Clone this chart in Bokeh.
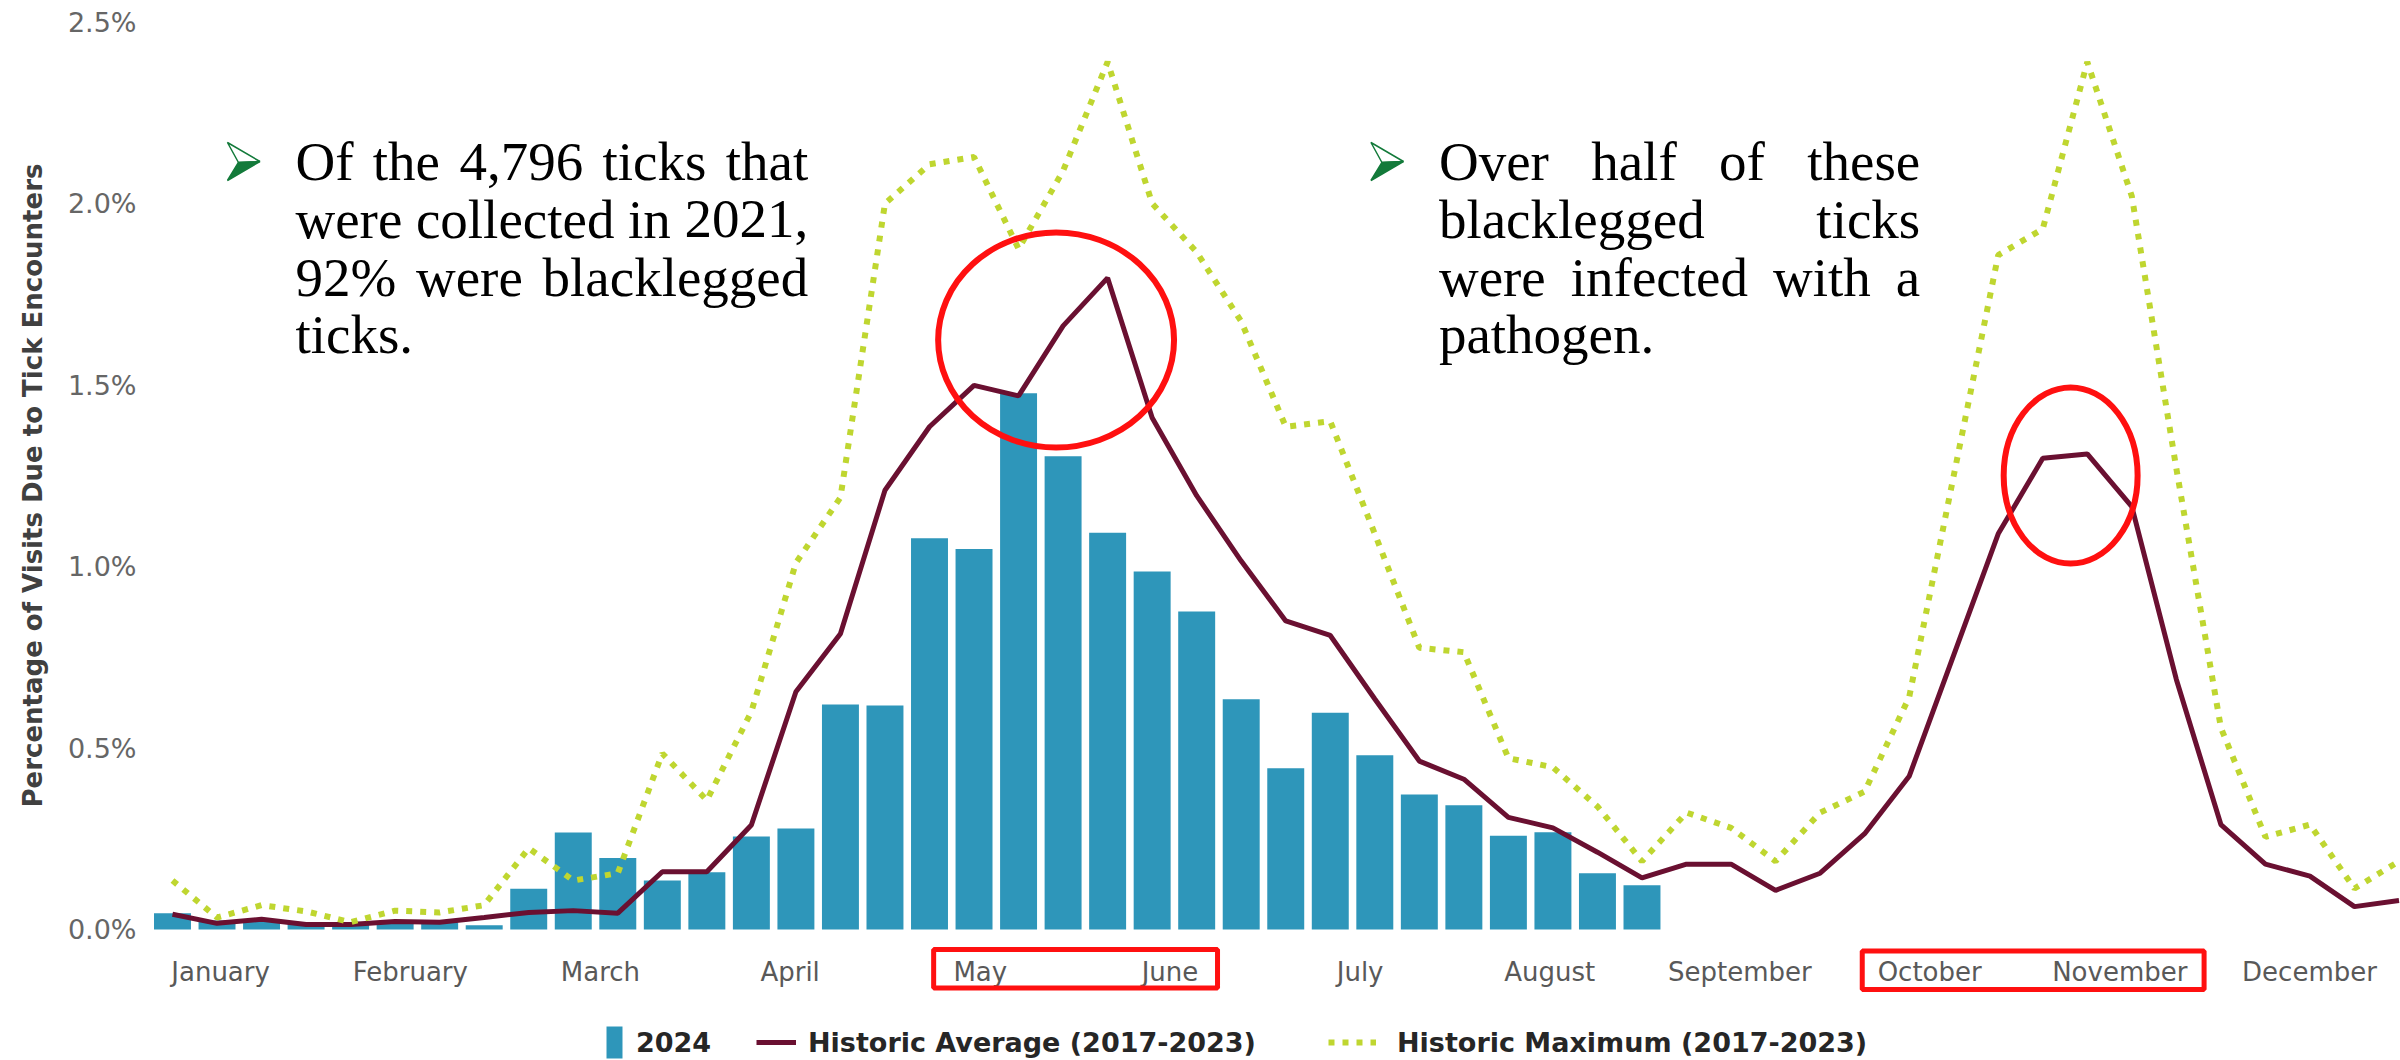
from bokeh.plotting import figure
from bokeh.models import Range1d, FixedTicker, PrintfTickFormatter, Legend, LegendItem, Title
from bokeh.embed import file_html
from bokeh.resources import INLINE
from bokeh.core.properties import value

# ---------------- data ----------------
weeks_2024 = list(range(1, 35))
pct_2024 = [0.045, 0.025, 0.028, 0.018, 0.015, 0.022, 0.020, 0.012, 0.112, 0.267,
            0.197, 0.135, 0.158, 0.256, 0.278, 0.620, 0.617, 1.078, 1.048, 1.477,
            1.304, 1.093, 0.986, 0.876, 0.634, 0.444, 0.597, 0.480, 0.372, 0.342,
            0.258, 0.268, 0.155, 0.122]

weeks_hist = list(range(1, 52))
hist_avg = [0.042, 0.017, 0.028, 0.014, 0.014, 0.022, 0.020, 0.033, 0.047, 0.052,
            0.045, 0.159, 0.159, 0.288, 0.655, 0.815, 1.210, 1.385, 1.499, 1.470,
            1.663, 1.795, 1.410, 1.195, 1.015, 0.850, 0.810, 0.635, 0.464, 0.414,
            0.309, 0.280, 0.213, 0.142, 0.180, 0.180, 0.108, 0.155, 0.264, 0.422,
            0.756, 1.090, 1.298, 1.310, 1.165, 0.689, 0.289, 0.180, 0.147, 0.063,
            0.080]
hist_max = [0.135, 0.033, 0.067, 0.050, 0.020, 0.052, 0.047, 0.067, 0.224, 0.135,
            0.155, 0.485, 0.356, 0.600, 1.010, 1.190, 2.000, 2.108, 2.128, 1.875,
            2.090, 2.390, 2.000, 1.866, 1.675, 1.385, 1.400, 1.090, 0.776, 0.764,
            0.472, 0.447, 0.339, 0.188, 0.322, 0.280, 0.188, 0.322, 0.380, 0.640,
            1.250, 1.858, 1.930, 2.390, 2.020, 1.270, 0.556, 0.255, 0.289, 0.113,
            0.188]

month_names = ["January", "February", "March", "April", "May", "June", "July",
               "August", "September", "October", "November", "December"]
month_ticks = [2.08, 6.34, 10.61, 14.87, 19.14, 23.4, 27.67, 31.93, 36.2, 40.46, 44.73, 48.99]
y_ticks = [0.0, 0.5, 1.0, 1.5, 2.0, 2.5]

series_names = ["2024", "Historic Average (2017-2023)", "Historic Maximum (2017-2023)"]
y_title = "Percentage of Visits Due to Tick Encounters"

note_left = [["Of", "the", "4,796", "ticks", "that"],
             ["were", "collected", "in", "2021,"],
             ["92%", "were", "blacklegged"],
             ["ticks."]]
note_right = [["Over", "half", "of", "these"],
              ["blacklegged", "ticks"],
              ["were", "infected", "with", "a"],
              ["pathogen."]]

# ---------------- styling / layout ----------------
TEAL = "#2e96ba"
MAROON = "#6a1031"
LIME = "#bfd630"
RED = "#ff1010"
GREEN = "#137a3a"

W, H = 2400, 1060
FL, FR, FT, FB = 145, 2400, 10, 1060      # frame edges in page pixels
PX_WEEK = 44.55
X0 = 1 - (171 - FL) / PX_WEEK
X1 = X0 + (FR - FL) / PX_WEEK
PX_PCT = 363.0
ZERO_Y = 929
Y0 = -(FB - ZERO_Y) / PX_PCT
Y1 = (ZERO_Y - FT) / PX_PCT


def dx(px):
    return X0 + (px - FL) / PX_WEEK


def dy(py):
    return (ZERO_Y - py) / PX_PCT


p = figure(width=W, height=H, output_backend="svg", toolbar_location=None,
           x_range=Range1d(X0, X1), y_range=Range1d(Y0, Y1), x_axis_location=None,
           min_border_left=FL, min_border_right=W - FR,
           min_border_top=FT, min_border_bottom=H - FB)
p.outline_line_color = None
p.xgrid.visible = False
p.ygrid.visible = False
p.background_fill_color = "white"
p.border_fill_color = "white"

# y axis
ya = p.yaxis[0]
ya.ticker = FixedTicker(ticks=y_ticks)
ya.formatter = PrintfTickFormatter(format="%.1f%%")
ya.axis_line_color = None
ya.major_tick_line_color = None
ya.minor_tick_line_color = None
ya.major_tick_out = 0
ya.major_tick_in = 0
ya.major_label_standoff = 10
ya.major_label_text_font = "DejaVu Sans"
ya.major_label_text_font_size = "27px"
ya.major_label_text_color = "#666666"

# y axis title, centred on the 0-2.5% span rather than the whole frame
p.add_layout(Title(text=y_title, align="left", vertical_align="middle",
                   offset=FB - 807, standoff=32, text_font="DejaVu Sans",
                   text_font_size="26px", text_font_style="bold",
                   text_color="#404040"), "left")

# data marks
bars = p.vbar(x=weeks_2024, top=pct_2024, width=0.83, fill_color=TEAL, line_color=None)
avg = p.line(weeks_hist, hist_avg, line_color=MAROON, line_width=5)
mx = p.line(weeks_hist, hist_max, line_color=LIME, line_width=6, line_dash="6 8")

# month labels under the bars
p.text(x=month_ticks, y=[dy(971)] * len(month_ticks), text=month_names,
       text_font=value("DejaVu Sans"), text_font_size="26px", text_color="#595959",
       text_align="center", text_baseline="middle")

# red highlight ellipses (screen sizes converted to data units)
p.ellipse(x=[dx(1055), dx(2070)], y=[dy(339.5), dy(475)],
          width=[236 / PX_WEEK, 134 / PX_WEEK], height=[215 / PX_PCT, 176 / PX_PCT],
          fill_color=None, line_color=RED, line_width=6)

# red boxes around month labels
boxes = [(932.5, 1216.5, 949, 987.5), (1861.5, 2203.5, 950.5, 989)]
p.quad(left=[dx(b[0]) for b in boxes], right=[dx(b[1]) for b in boxes],
       top=[dy(b[2]) for b in boxes], bottom=[dy(b[3]) for b in boxes],
       fill_color=None, line_color=RED, line_width=5)

# justified serif notes (Times/Liberation Serif advance widths, per 1000 em)
TW = {' ': 250, ',': 250, '.': 250, '%': 833, '0': 500, '1': 500, '2': 500, '4': 500,
      '6': 500, '7': 500, '9': 500, 'O': 722, 'a': 444, 'b': 500, 'c': 444, 'd': 500,
      'e': 444, 'f': 333, 'g': 500, 'h': 500, 'i': 278, 'k': 500, 'l': 278, 'n': 500,
      'o': 500, 'p': 500, 'r': 333, 's': 389, 't': 278, 'v': 500, 'w': 722}
FS = 55


def wwidth(w):
    return sum(TW.get(c, 500) for c in w) * FS / 1000.0


tx, ty, tt = [], [], []
baselines = [180, 237.5, 295.5, 353]
MID = 0.34 * FS          # em-box middle above the baseline
for lines, left, right in [(note_left, 294, 807), (note_right, 1438, 1919.5)]:
    for k, words in enumerate(lines):
        last = k == len(lines) - 1
        if len(words) > 1 and not last:
            gap = (right - left - sum(wwidth(w) for w in words)) / (len(words) - 1)
        else:
            gap = TW[' '] * FS / 1000.0
        xpos = left
        for w in words:
            tx.append(dx(xpos))
            ty.append(dy(baselines[k] - MID))
            tt.append(w)
            xpos += wwidth(w) + gap
p.text(x=tx, y=ty, text=tt, text_font=value("Liberation Serif"), text_font_size="55px",
       text_baseline="middle", text_align="left", text_color="black")

# green arrowhead bullets
axs, ays, acol = [], [], []
for ox in [226, 1370]:
    top_half = [(ox, 142), (ox + 32.5, 161), (ox + 11, 162)]
    bot_half = [(ox + 11, 162), (ox + 32.5, 161), (ox, 180)]
    for poly, col in [(top_half, "white"), (bot_half, GREEN)]:
        axs.append([dx(a) for a, _ in poly])
        ays.append([dy(b) for _, b in poly])
        acol.append(col)
p.patches(xs=axs, ys=ays, fill_color=acol, line_color=GREEN, line_width=1.5)

# legends at the bottom of the chart
LEG_BOTTOM = 1062


def make_legend(label, rend, slot_left, gw, standoff):
    lg = Legend(items=[LegendItem(label=label, renderers=[rend])],
                location=(slot_left - FL, FB - LEG_BOTTOM),
                orientation="horizontal", glyph_width=gw, glyph_height=40,
                label_standoff=standoff, margin=0, padding=0, spacing=0,
                border_line_color=None, background_fill_alpha=0,
                label_text_font="DejaVu Sans", label_text_font_style="bold",
                label_text_font_size="27px", label_text_color="#262626")
    p.add_layout(lg)


make_legend(series_names[0], bars, 603, 20, 12)
make_legend(series_names[1], avg, 755, 40, 12)
make_legend(series_names[2], mx, 1327, 48, 21)

open("out.html", "w").write(file_html(p, INLINE))
